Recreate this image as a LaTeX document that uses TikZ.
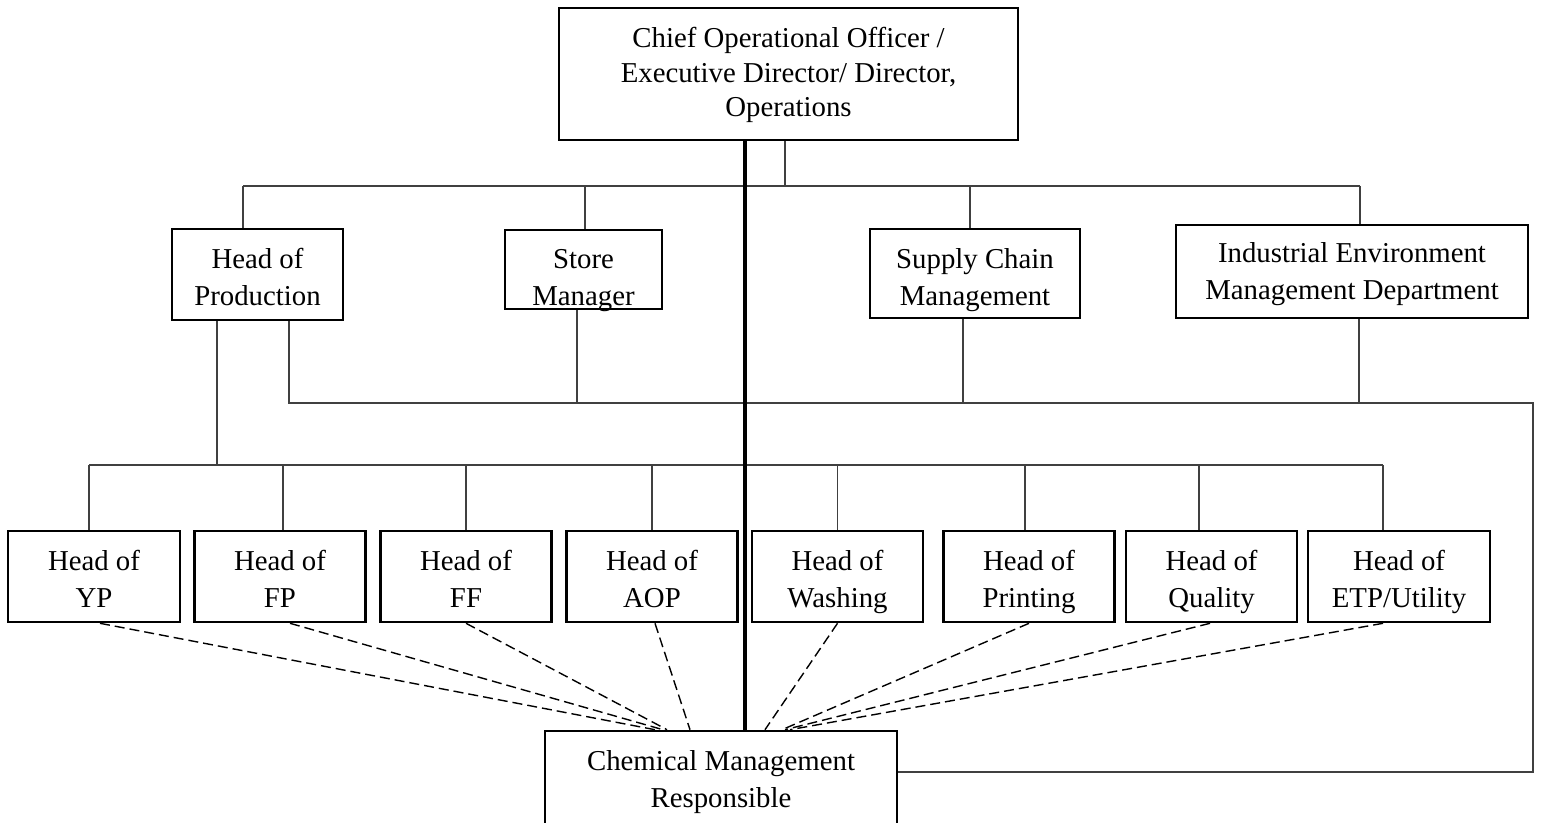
\documentclass[tikz,border=0pt]{standalone}
\usepackage{fontspec}
\setmainfont{Liberation Serif}
\usetikzlibrary{positioning,calc}
\tikzset{
  box/.style={draw, line width=1.3pt, align=center, inner sep=0pt, text depth=0pt,
    font=\fontsize{14.4pt}{18.5pt}\selectfont},
  lowbox/.style={box, minimum width=85.5pt, minimum height=45.5pt, text height=30.5pt},
  wire/.style={line width=0.7pt, black!75},
  link/.style={line width=0.7pt, dash pattern=on 5pt off 2.5pt},
  spine/.style={line width=2.2pt}
}
\begin{document}
\begin{tikzpicture}[x=0.5pt,y=-0.5pt,on grid]
  \useasboundingbox (0,0) rectangle (1541,823);
  \clip (0,0) rectangle (1541,823);
  % top
  \node [box, minimum width=229.5pt, minimum height=66pt, text height=43pt,
    font=\fontsize{14.4pt}{17.3pt}\selectfont] (coo) at (788.5,74)
    {Chief Operational Officer /\\Executive Director/ Director,\\Operations};
  % heads
  \node [box, minimum width=85.5pt, minimum height=45.5pt, text height=31.5pt] (hop) at (257.5,274.5) {Head of\\Production};
  \node [box, minimum width=78.5pt, minimum height=39.5pt, text height=36.5pt] (stm) at (583.5,269.5) {Store\\Manager};
  \node [box, minimum width=105pt, minimum height=44.5pt, text height=32.5pt] (scm) at (975,273.5) {Supply Chain\\Management};
  \node [box, minimum width=176pt, minimum height=46.5pt, text height=28.5pt] (iem) at (1352,271.5) {Industrial Environment\\Management Department};
  % production units
  \node [lowbox, minimum width=86pt] (yp) at (94,576.5) {Head of\\YP};
  \node [lowbox, right=93pt of yp] (fp) {Head of\\FP};
  \node [lowbox, right=93pt of fp] (ff) {Head of\\FF};
  \node [lowbox, right=93pt of ff] (aop) {Head of\\AOP};
  \node [lowbox, right=92.75pt of aop] (wsh) {Head of\\Washing};
  \node [lowbox, right=95.75pt of wsh] (prt) {Head of\\Printing};
  \node [lowbox, right=91.25pt of prt] (qty) {Head of\\Quality};
  \node [lowbox, right=93.75pt of qty, minimum width=91pt] (etp) {Head of\\ETP/Utility};
  % chemical
  \node [box, minimum width=176pt, minimum height=52pt, text height=24pt] (cmr) at (721,783) {Chemical Management\\Responsible};

  % first bus
  \coordinate (t0) at (785,186);
  \coordinate (tL) at (243,186);
  \coordinate (tS) at (585,186);
  \coordinate (tM) at (970,186);
  \coordinate (tR) at (1360,186);
  \draw [wire] (coo.south -| t0) -- (t0);
  \draw [wire] (tL) -- (tR);
  \draw [wire] (tL) -- (hop.north -| tL);
  \draw [wire] (tS) -- (stm.north -| tS);
  \draw [wire] (tM) -- (scm.north -| tM);
  \draw [wire] (tR) -- (iem.north -| tR);

  % return bus to chemical
  \coordinate (mL) at (289,403);
  \coordinate (mS) at (577,403);
  \coordinate (mM) at (963,403);
  \coordinate (mI) at (1359,403);
  \coordinate (mR) at (1533,403);
  \coordinate (cR) at (1533,772);
  \draw [wire] (hop.south -| mL) -- (mL) -- (mR) -- (cR) -- (cmr.east |- cR);
  \draw [wire] (stm.south -| mS) -- (mS);
  \draw [wire] (scm.south -| mM) -- (mM);
  \draw [wire] (iem.south -| mI) -- (mI);

  % production bus
  \coordinate (pB) at (217,465);
  \coordinate (pL) at (89,465);
  \coordinate (pR) at (1383,465);
  \draw [wire] (hop.south -| pB) -- (pB);
  \draw [wire] (pL) -- (pR);
  \draw [wire] (pL) -- (yp.north -| pL);
  \draw [wire] ($(fp.north)+(3,0)$) -- ($(fp.north |- pL)+(3,0)$);
  \draw [wire] (ff.north) -- (ff.north |- pL);
  \draw [wire] (aop.north) -- (aop.north |- pL);
  \draw [wire] (wsh.north) -- (wsh.north |- pL);
  \draw [wire] ($(prt.north)+(-4,0)$) -- ($(prt.north |- pL)+(-4,0)$);
  \draw [wire] ($(qty.north)+(-12.5,0)$) -- ($(qty.north |- pL)+(-12.5,0)$);
  \draw [wire] (pR) -- (etp.north -| pR);

  % dashed responsibility
  \draw [link] ($(yp.south)+(6,0)$) -- ($(cmr.north)+(-66,0)$);
  \draw [link] ($(fp.south)+(10,0)$) -- ($(cmr.north)+(-58,0)$);
  \draw [link] (ff.south) -- ($(cmr.north)+(-54,0)$);
  \draw [link] ($(aop.south)+(3,0)$) -- ($(cmr.north)+(-31,0)$);
  \draw [link] (wsh.south) -- ($(cmr.north)+(44,0)$);
  \draw [link] (prt.south) -- ($(cmr.north)+(61,0)$);
  \draw [link] ($(qty.south)+(-1.5,0)$) -- ($(cmr.north)+(64,0)$);
  \draw [link] ($(etp.south)+(-16,0)$) -- ($(cmr.north)+(69,0)$);

  % spine
  \coordinate (sp) at (745,0);
  \draw [spine] (coo.south -| sp) -- (cmr.north -| sp);
\end{tikzpicture}
\end{document}
